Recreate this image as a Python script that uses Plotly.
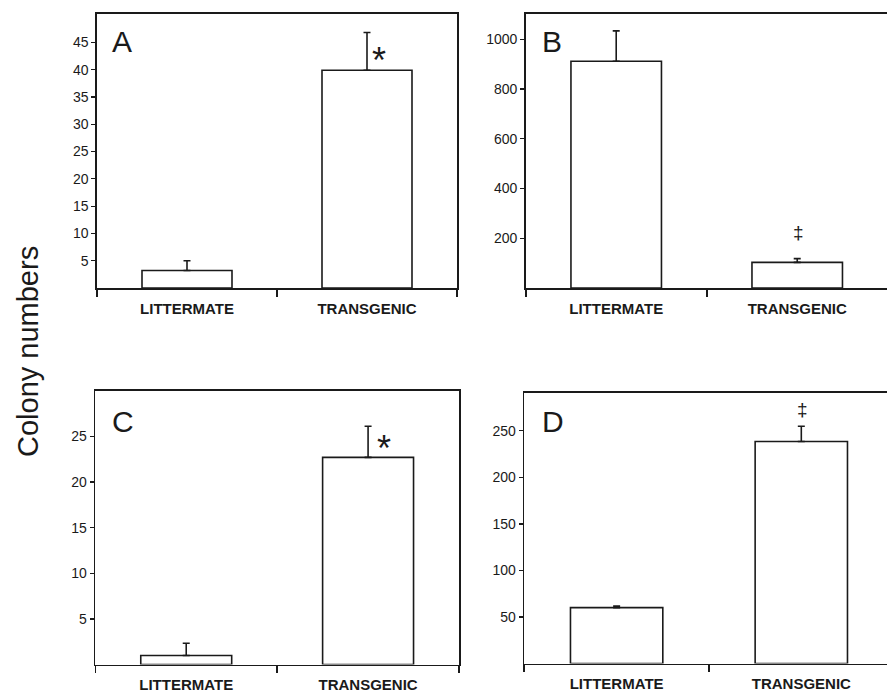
import plotly.graph_objects as go

W, H = 887, 698

categories = ["LITTERMATE", "TRANSGENIC"]

a_vals = [3.2, 39.9]
a_err = [1.8, 6.9]
b_vals = [911, 103]
b_err = [122, 15]
c_vals = [1.0, 22.7]
c_err = [1.34, 3.4]
d_vals = [60, 238.5]
d_err = [1.8, 16.5]

a_ticks = [5, 10, 15, 20, 25, 30, 35, 40, 45]
b_ticks = [200, 400, 600, 800, 1000]
c_ticks = [5, 10, 15, 20, 25]
d_ticks = [50, 100, 150, 200, 250]

panel_letters = ["A", "B", "C", "D"]
y_title = "Colony numbers"

FONT = "Liberation Sans, Arial, sans-serif"
INK = "#1a1a1a"

# panel geometry in pixels: (left, right, top, bottom)
geo = {
    "A": (97, 457, 14, 288),
    "B": (525.7, 887, 14, 288),
    "C": (95.3, 459, 390.7, 664.6),
    "D": (524.3, 887, 392.7, 663.5),
}
yranges = {"A": [0, 50.2], "B": [0, 1101], "C": [0, 30.0], "D": [0, 291]}
xranges = {"A": [-0.5, 1.5], "B": [-0.5, 1.496], "C": [-0.5, 1.5], "D": [-0.5, 1.464]}
mirror_y = {"A": True, "B": False, "C": True, "D": False}

data = {"A": (a_vals, a_err, a_ticks), "B": (b_vals, b_err, b_ticks),
        "C": (c_vals, c_err, c_ticks), "D": (d_vals, d_err, d_ticks)}

fig = go.Figure()
layout = dict(
    width=W, height=H, margin=dict(l=0, r=0, t=0, b=0),
    paper_bgcolor="white", plot_bgcolor="white", showlegend=False,
    font=dict(family=FONT, color=INK),
)
annotations = []

for i, p in enumerate(panel_letters):
    vals, err, ticks = data[p]
    sfx = "" if i == 0 else str(i + 1)
    l, r, t, b = geo[p]
    fig.add_trace(go.Bar(
        x=categories, y=vals, width=0.5,
        marker=dict(color="white", line=dict(color=INK, width=1.6)),
        error_y=dict(type="data", symmetric=False, array=err, arrayminus=[0, 0],
                     color=INK, thickness=1.6, width=3.5),
        xaxis="x" + sfx, yaxis="y" + sfx,
    ))
    layout["xaxis" + sfx] = dict(
        domain=[l / W, r / W], anchor="y" + sfx, range=xranges[p],
        type="category", showline=True, linecolor=INK, linewidth=1.6,
        mirror=True, ticks="outside", tickson="boundaries", ticklen=7,
        tickcolor=INK, tickwidth=1.6, showgrid=False, zeroline=False,
        ticklabelstandoff=6,
        tickfont=dict(family=FONT, size=15, color=INK, weight="bold"),
        fixedrange=True,
    )
    layout["yaxis" + sfx] = dict(
        domain=[1 - b / H, 1 - t / H], anchor="x" + sfx, range=yranges[p],
        showline=True, linecolor=INK, linewidth=1.6, mirror=mirror_y[p],
        ticks="outside", ticklen=4, tickcolor=INK, tickwidth=1.2,
        tickvals=ticks, showgrid=False, zeroline=False,
        tickfont=dict(family=FONT, size=14, color=INK),
        fixedrange=True,
    )

letter_pos = {"A": (0.0686, 0.900), "B": (0.073, 0.90), "C": (0.075, 0.887), "D": (0.080, 0.893)}
for i, p in enumerate(panel_letters):
    sfx = "" if i == 0 else str(i + 1)
    lx, ly = letter_pos[p]
    annotations.append(dict(
        text=p, xref="x" + sfx + " domain", yref="y" + sfx + " domain",
        x=lx, y=ly, xanchor="center", yanchor="middle", showarrow=False,
        font=dict(family=FONT, size=30, color=INK),
    ))

# significance marks: (axis suffix, symbol, y value, xshift, yshift, font size)
marks = [
    ("", "*", 42.7, 12, -6, 36),
    ("2", "‡", 225, 1, 0, 19),
    ("3", "*", 24.3, 16, -6, 36),
    ("4", "‡", 273, 1, 0, 19),
]
for sfx, sym, yv, xs, ys, fs in marks:
    annotations.append(dict(
        text=sym, xref="x" + sfx, yref="y" + sfx, x=categories[1], y=yv,
        xshift=xs, yshift=ys, xanchor="center", yanchor="middle", showarrow=False,
        font=dict(family=FONT, size=fs, color=INK),
    ))

annotations.append(dict(
    text=y_title, xref="paper", yref="paper", x=28 / W, y=1 - 352 / H,
    xanchor="center", yanchor="middle", textangle=-90, showarrow=False,
    font=dict(family=FONT, size=29, color=INK),
))

layout["annotations"] = annotations
fig.update_layout(**layout)
fig.write_html(
    "out.html",
    config={"displayModeBar": False, "staticPlot": True},
    post_script="document.body.style.margin='0';document.body.style.overflow='hidden';",
)
